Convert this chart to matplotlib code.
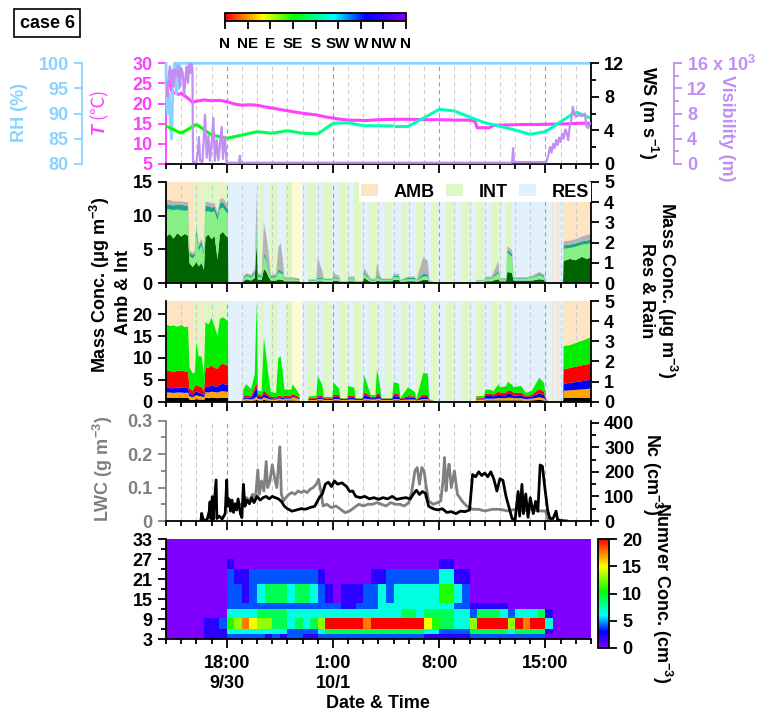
import numpy as np
import matplotlib
matplotlib.use('Agg')
import matplotlib.pyplot as plt
from matplotlib.colors import LinearSegmentedColormap, Normalize
from matplotlib.collections import LineCollection
from matplotlib.patches import Patch
from matplotlib.cm import ScalarMappable
from matplotlib.ticker import MultipleLocator, FixedLocator

#%% fonts
plt.rcParams['font.family'] = ['Liberation Sans', 'DejaVu Sans']
plt.rcParams['font.weight'] = 'bold'
plt.rcParams['font.size'] = 13
plt.rcParams['axes.linewidth'] = 1.3
plt.rcParams['mathtext.fontset'] = 'custom'
plt.rcParams['mathtext.rm'] = 'Liberation Sans:bold'
plt.rcParams['mathtext.bf'] = 'Liberation Sans:bold'
plt.rcParams['mathtext.it'] = 'Liberation Sans:italic'

#%% data (time in hours counted from 0:00 on 9/30)
major_hours = [18, 25, 32, 39]
major_labels = ['18:00\n9/30', '1:00\n10/1', '8:00', '15:00']
dir_labels = ['N', 'NE', 'E', 'SE', 'S', 'SW', 'W', 'NW', 'N']

# met panel
t_rh = [14.00, 14.03, 14.10, 14.20, 14.30, 14.37, 14.45, 14.55, 14.65, 14.70, 14.78, 14.85, 14.90, 42.00]
rh = [100, 93, 90, 94, 88, 85, 95, 100, 100, 94, 100, 95, 100, 100]

t_temp = [14.0, 14.05, 14.1, 14.2, 14.3, 14.35, 14.45, 14.6, 14.8, 15.0,
          15.2, 15.35, 15.6, 15.75, 16.0, 16.5, 17.0, 17.5, 18.0, 18.5,
          19.0, 19.5, 20.0, 20.5, 21.0, 21.7, 22.5, 23.2, 23.9, 24.5,
          25.0, 25.5, 26.0, 27.2, 28.0, 29.0, 30.0, 31.0, 32.0, 33.0,
          34.0, 34.35, 34.5, 35.3, 35.6, 36.5, 37.5, 38.5, 39.5, 40.5,
          41.2, 42.0]
temp = [24.5, 25.2, 24.8, 25.5, 24.6, 23.5, 22.5, 22.7, 22.3, 22.5,
        22.0, 21.6, 20.8, 20.3, 20.6, 20.9, 20.7, 20.8, 20.5, 19.9,
        19.6, 19.7, 19.6, 19.2, 18.9, 18.4, 17.9, 17.5, 17.2, 16.7,
        16.4, 16.1, 15.9, 15.8, 16.0, 16.1, 16.1, 16.0, 16.0, 15.9,
        15.9, 15.6, 14.0, 14.0, 14.6, 14.7, 14.8, 14.8, 14.9, 15.0,
        15.1, 15.1]

ws_hours = [14, 15, 16, 17, 18, 19, 20, 21, 22, 23, 24, 25, 26, 27, 28,
            29, 30, 31, 32, 33, 34, 35, 36, 37, 38, 39, 40, 41, 42]
ws = [4.53, 3.66, 4.73, 3.46, 3.06, 3.45, 3.85, 3.66, 3.97, 3.66, 3.58, 4.85, 4.92, 4.56, 4.55,
      4.53, 4.53, 5.5, 6.52, 6.32, 5.6, 4.92, 4.5, 4.05, 3.54, 3.85, 5.04, 6.2, 5.45]
wd = [137, 136, 138, 140, 143, 150, 160, 165, 168, 170, 172, 188, 190, 192, 192,
      194, 194, 195, 195, 196, 196, 196, 196, 196, 196, 196, 196, 196, 196]

t_vis = [14.00, 14.04, 14.10, 14.20, 14.26, 14.35, 14.45, 14.50, 14.60, 14.70,
         14.80, 14.92, 15.00, 15.10, 15.20, 15.30, 15.36, 15.45, 15.55, 15.62,
         15.70, 15.74, 15.78, 16.00, 16.10, 16.17, 16.25, 16.40, 16.57, 16.68,
         16.79, 16.90, 17.00, 17.12, 17.22, 17.34, 17.45, 17.67, 17.75, 17.88,
         18.00, 18.80, 18.87, 18.92, 36.80, 36.87, 36.92, 39.06, 39.20, 39.30,
         39.40, 39.50, 39.60, 39.70, 39.80, 39.90, 40.00, 40.10, 40.20, 40.30,
         40.40, 40.50, 40.60, 40.70, 40.80, 40.90, 41.00, 41.20, 41.40, 41.60,
         41.70, 41.80, 41.90, 42.00]
vis = [12800, 13000, 10700, 14500, 15500, 13000, 14900, 12300, 15000, 14000,
       15600, 12300, 15200, 14500, 11000, 14200, 15500, 12900, 16000, 14500,
       15800, 15000, 300, 300, 2000, 4300, 500, 300, 7800, 1000,
       4500, 500, 3000, 7300, 500, 3800, 600, 5900, 800, 4300,
       200, 200, 1300, 200, 200, 2500, 300, 300, 1500, 2700,
       1800, 3200, 2500, 3800, 3000, 4200, 3500, 4800, 4000, 5500,
       5000, 3800, 6000, 7000, 9100, 8000, 7500, 7800, 7600, 8000,
       6000, 5700, 6400, 6500]

# sampling periods
amb_spans = [(14.0, 15.8), (16.0, 16.1), (16.35, 16.45), (16.8, 16.9), (17.2, 17.3),
             (17.65, 17.75), (39.4, 39.55), (39.75, 39.9), (40.16, 42.0)]
int_spans = [(15.8, 16.0), (16.1, 16.35), (16.45, 16.8), (16.9, 17.2), (17.3, 17.65),
             (17.75, 18.1), (20.19, 20.45), (20.85, 21.33), (21.83, 22.31), (23.37, 23.87),
             (24.36, 24.9), (25.4, 25.9), (26.38, 26.88), (27.38, 27.87), (28.42, 28.9),
             (29.47, 29.91), (30.44, 30.94), (31.45, 31.93), (32.41, 32.91), (33.42, 33.95),
             (34.45, 34.95), (35.44, 35.92), (36.43, 36.8)]
res_spans = [(18.1, 20.19), (20.45, 20.85), (21.33, 21.83), (22.97, 23.37), (23.87, 24.36),
             (24.9, 25.4), (25.9, 26.38), (26.88, 27.38), (27.87, 28.42), (28.9, 29.47),
             (29.91, 30.44), (30.94, 31.45), (31.93, 32.41), (32.91, 33.42), (33.95, 34.45),
             (34.95, 35.44), (35.92, 36.43), (36.8, 39.4), (39.55, 39.75), (39.9, 40.16)]
yel_spans = [(22.31, 22.97)]

# mass concentrations (layer thickness, plotted on the Amb & Int scale)
t_mass = [14.00, 14.25, 14.50, 14.75, 15.00, 15.25, 15.45, 15.55,
          15.75, 15.90, 16.00, 16.15, 16.35, 16.50, 16.60, 16.80,
          17.00, 17.20, 17.40, 17.55, 17.75, 17.95, 18.08, 18.10,
          19.05, 19.10, 19.30, 19.60, 19.85, 19.97, 20.05, 20.30,
          20.45, 20.60, 20.75, 20.90, 21.25, 21.40, 21.55, 21.70,
          21.80, 22.25, 22.35, 22.80, 22.82, 23.35, 23.40, 23.90,
          24.00, 24.30, 24.40, 24.95, 25.05, 25.40, 25.50, 25.95,
          26.00, 26.40, 26.50, 26.95, 27.05, 27.40, 27.50, 27.80,
          27.90, 28.10, 28.20, 28.90, 29.00, 29.35, 29.45, 29.95,
          30.40, 30.50, 30.95, 31.25, 31.35, 31.70, 31.75, 34.40,
          34.45, 34.95, 35.05, 35.45, 35.55, 35.90, 36.00, 36.40,
          36.50, 36.80, 36.90, 37.40, 37.70, 38.10, 38.60, 38.90,
          39.05, 39.20, 40.15, 40.20, 40.60, 41.00, 41.40, 41.70,
          42.00]
m_dkgreen = [6.8, 7.3, 6.6, 7.4, 6.9, 7.3, 7.0, 3.0,
             2.4, 2.8, 3.2, 2.5, 3.0, 2.0, 6.8, 7.2,
             6.5, 7.0, 3.5, 7.2, 7.6, 7.0, 6.8, 0,
             0, 0.3, 0.6, 0.4, 0.8, 6.0, 0.5, 0.5,
             2.1, 1.8, 1.0, 0.4, 0.4, 0.6, 0.5, 0.5,
             0.3, 0.3, 0.3, 0.3, 0, 0, 0.2, 0.2,
             0.3, 0.3, 0.2, 0.2, 0.4, 0.3, 0.1, 0.1,
             0.3, 0.3, 0.1, 0.1, 0.8, 0.3, 0.2, 0.2,
             0.4, 0.3, 0.3, 0.3, 0.5, 0.5, 0.2, 0.3,
             0.3, 0.2, 0.5, 0.5, 0.2, 0.1, 0, 0,
             0.2, 0.2, 0.3, 0.3, 0.4, 0.6, 0.3, 0.3,
             1.7, 1.5, 0.4, 0.4, 0.4, 0.4, 0.6, 0.5,
             0.05, 0, 0, 3.3, 3.6, 3.4, 3.9, 3.6,
             3.8]
m_ltgreen = [4.1, 3.6, 4.2, 3.5, 3.9, 3.4, 3.8, 1.0,
             1.3, 1.2, 4.0, 2.3, 2.6, 2.2, 3.8, 3.4,
             4.0, 3.6, 5.8, 3.8, 3.6, 3.6, 3.5, 0,
             0, 0.4, 0.5, 0.4, 0.6, 2.0, 0.5, 0.4,
             1.9, 1.5, 1.0, 0.4, 0.5, 1.0, 1.0, 0.8,
             0.3, 0.3, 0.3, 0.2, 0, 0, 0.2, 0.2,
             0.3, 0.3, 0.3, 0.3, 0.4, 0.3, 0.1, 0.1,
             0.3, 0.3, 0.1, 0.1, 0.6, 0.3, 0.2, 0.2,
             0.5, 0.3, 0.2, 0.2, 0.4, 0.4, 0.2, 0.3,
             0.3, 0.2, 0.5, 0.5, 0.2, 0.05, 0, 0,
             0.2, 0.2, 0.4, 0.4, 0.5, 0.9, 0.3, 0.3,
             2.8, 2.4, 0.3, 0.3, 0.3, 0.4, 0.6, 0.4,
             0.05, 0, 0, 1.8, 1.6, 2.0, 1.8, 2.2,
             2.1]
m_teal = [0.8, 0.7, 0.7, 0.7, 0.8, 0.8, 0.7, 0.5,
          0.5, 0.4, 0.8, 0.6, 0.6, 0.5, 0.8, 0.8,
          0.7, 0.7, 0.7, 0.8, 0.8, 0.7, 0.7, 0,
          0, 0.2, 0.2, 0.2, 0.3, 0.8, 0.2, 0.2,
          0.5, 0.4, 0.3, 0.2, 0.2, 0.4, 0.4, 0.3,
          0.1, 0.1, 0.1, 0.1, 0, 0, 0.1, 0.1,
          0.2, 0.2, 0.1, 0.1, 0.2, 0.1, 0.05, 0.05,
          0.1, 0.1, 0.05, 0.05, 0.3, 0.1, 0.1, 0.1,
          0.3, 0.2, 0.1, 0.1, 0.2, 0.2, 0.05, 0.2,
          0.2, 0.05, 0.4, 0.3, 0.05, 0, 0, 0,
          0.05, 0.05, 0.1, 0.1, 0.2, 0.3, 0.1, 0.1,
          0.5, 0.4, 0.1, 0.1, 0.1, 0.1, 0.2, 0.2,
          0, 0, 0, 0.5, 0.5, 0.5, 0.5, 0.5,
          0.6]
m_gray = [0.6, 0.7, 0.6, 0.5, 0.5, 0.5, 0.5, 0.4,
          0.3, 0.4, 0.6, 0.4, 0.4, 0.3, 0.6, 0.6,
          0.6, 0.5, 0.5, 0.6, 0.6, 0.6, 0.5, 0,
          0, 0.2, 0.2, 0.3, 0.4, 4.8, 0.3, 0.3,
          4.4, 3.5, 2.5, 0.2, 0.3, 3.2, 4.1, 2.0,
          0.2, 0.2, 0.2, 0.1, 0, 0, 0.1, 0.1,
          3.0, 1.0, 0.1, 0.1, 0.5, 0.4, 0.05, 0.05,
          0.3, 0.3, 0.1, 0.1, 0.6, 0.3, 0.2, 0.2,
          1.8, 0.5, 0.1, 0.1, 0.3, 0.3, 0.05, 0.2,
          0.2, 0.05, 2.5, 2.0, 0.05, 0, 0, 0,
          0.05, 0.05, 0.2, 0.2, 0.4, 1.5, 0.1, 0.1,
          0.5, 0.6, 0.1, 0.1, 0.1, 0.2, 0.3, 0.2,
          0, 0, 0, 0.6, 0.6, 0.6, 0.7, 0.8,
          0.8]

c_black = [0.9, 0.9, 0.9, 0.9, 0.9, 0.9, 0.9, 0.5,
           0.4, 0.5, 0.6, 0.5, 0.5, 0.4, 0.9, 0.8,
           0.9, 0.9, 0.8, 0.9, 0.9, 0.9, 0.9, 0,
           0, 0.2, 0.3, 0.2, 0.3, 0.4, 0.3, 0.2,
           0.4, 0.3, 0.3, 0.2, 0.2, 0.3, 0.3, 0.2,
           0.3, 0.3, 0.3, 0.2, 0, 0, 0.2, 0.2,
           0.3, 0.3, 0.2, 0.2, 0.3, 0.3, 0.2, 0.2,
           0.2, 0.2, 0.2, 0.2, 0.3, 0.3, 0.2, 0.2,
           0.3, 0.3, 0.2, 0.2, 0.3, 0.3, 0.2, 0.2,
           0.2, 0.1, 0.3, 0.3, 0.1, 0.05, 0, 0,
           0.2, 0.2, 0.3, 0.3, 0.3, 0.3, 0.3, 0.3,
           0.3, 0.3, 0.3, 0.3, 0.2, 0.3, 0.4, 0.3,
           0.1, 0, 0, 0.9, 0.9, 0.9, 0.9, 0.9,
           0.9]
c_orange = [1.2, 1.2, 1.1, 1.2, 1.2, 1.1, 1.2, 0.8,
            0.6, 0.8, 0.9, 0.8, 0.7, 0.6, 1.3, 1.3,
            1.4, 1.3, 1.3, 1.4, 1.5, 1.4, 1.4, 0,
            0, 0.3, 0.4, 0.3, 0.5, 0.8, 0.4, 0.4,
            0.6, 0.5, 0.4, 0.3, 0.3, 0.4, 0.4, 0.3,
            0.4, 0.4, 0.8, 0.4, 0, 0, 0.2, 0.2,
            0.3, 0.3, 0.2, 0.2, 0.3, 0.3, 0.2, 0.2,
            0.3, 0.3, 0.2, 0.2, 0.4, 0.3, 0.3, 0.3,
            0.4, 0.4, 0.2, 0.2, 0.3, 0.3, 0.2, 0.3,
            0.3, 0.2, 0.3, 0.3, 0.1, 0.05, 0, 0,
            0.3, 0.3, 0.4, 0.4, 0.4, 0.5, 0.5, 0.5,
            0.6, 0.6, 0.5, 0.5, 0.4, 0.4, 0.6, 0.5,
            0.2, 0, 0, 1.6, 1.7, 1.8, 1.9, 2.0,
            2.1]
c_blue = [1.1, 1.0, 1.1, 1.2, 1.1, 1.1, 1.1, 0.6,
          0.5, 0.8, 0.9, 0.8, 0.7, 0.5, 1.3, 1.2,
          1.5, 1.3, 1.4, 1.6, 1.7, 1.6, 1.5, 0,
          0, 0.2, 0.3, 0.3, 1.5, 2.0, 0.4, 0.4,
          0.8, 0.7, 0.4, 0.3, 0.2, 0.3, 0.3, 0.3,
          0.3, 0.3, 0.3, 0.2, 0, 0, 0.2, 0.2,
          0.3, 0.3, 0.2, 0.2, 0.6, 0.5, 0.2, 0.2,
          0.5, 0.5, 0.2, 0.2, 0.8, 0.5, 0.3, 0.3,
          0.6, 0.5, 0.2, 0.2, 0.7, 0.6, 0.2, 0.4,
          0.4, 0.1, 0.6, 0.4, 0.1, 0, 0, 0,
          0.2, 0.2, 0.6, 0.6, 0.5, 0.8, 0.7, 0.7,
          0.9, 0.8, 0.6, 0.7, 0.4, 0.5, 0.9, 0.7,
          0.1, 0, 0, 1.6, 1.7, 1.8, 1.9, 2.0,
          2.0]
c_red = [3.8, 3.9, 3.7, 3.8, 3.9, 3.8, 3.7, 1.2,
         1.0, 1.5, 1.4, 1.5, 1.4, 1.0, 4.2, 4.5,
         4.5, 4.2, 4.0, 4.4, 4.6, 4.5, 4.4, 0,
         0, 0.4, 0.5, 0.4, 1.0, 1.0, 0.5, 0.4,
         0.8, 0.6, 0.5, 0.4, 0.3, 0.4, 0.4, 0.3,
         0.4, 0.4, 0.4, 0.2, 0, 0, 0.2, 0.2,
         0.4, 0.4, 0.2, 0.2, 0.5, 0.4, 0.1, 0.1,
         0.4, 0.4, 0.1, 0.1, 0.6, 0.4, 0.3, 0.3,
         0.6, 0.5, 0.1, 0.1, 0.5, 0.5, 0.1, 0.4,
         0.3, 0.1, 0.5, 0.4, 0.1, 0, 0, 0,
         0.2, 0.2, 0.5, 0.5, 0.4, 0.7, 0.6, 0.6,
         0.8, 0.7, 0.6, 0.6, 0.3, 0.4, 1.0, 0.8,
         0.1, 0, 0, 3.3, 3.4, 3.5, 3.6, 3.6,
         3.7]
c_green = [10.6, 10.3, 10.6, 10.0, 10.4, 10.1, 10.3, 4.7,
           4.0, 3.0, 9.7, 6.8, 7.0, 3.5, 10.5, 9.8,
           10.9, 9.5, 7.5, 10.6, 10.6, 10.4, 10.0, 0,
           0, 1.8, 2.5, 1.7, 3.0, 18.8, 1.0, 0.9,
           12.0, 8.5, 4.5, 1.0, 1.0, 8.5, 9.0, 5.5,
           1.4, 1.3, 2.2, 0.6, 0, 0, 0.4, 0.5,
           4.6, 2.5, 0.3, 0.3, 2.7, 1.5, 0.1, 0.1,
           2.2, 1.8, 0.1, 0.1, 4.0, 1.0, 0.4, 0.4,
           5.5, 2.0, 0.1, 0.1, 2.7, 2.4, 0.1, 2.0,
           1.0, 0.1, 4.9, 5.0, 0.2, 0, 0, 0,
           0.4, 0.4, 1.0, 0.9, 0.7, 1.7, 1.2, 1.4,
           1.9, 1.5, 1.3, 1.5, 0.7, 0.9, 2.6, 2.0,
           0.1, 0, 0, 5.3, 5.2, 5.4, 5.6, 5.8,
           6.0]

# cloud microphysics
t_lwc = [18.90, 19.10, 19.30, 19.50, 19.70, 19.90, 20.05, 20.15, 20.30, 20.45,
         20.60, 20.70, 20.85, 21.00, 21.15, 21.30, 21.50, 21.60, 21.75, 21.90,
         22.10, 22.30, 22.50, 22.70, 22.90, 23.10, 23.30, 23.50, 23.70, 23.90,
         24.05, 24.20, 24.35, 24.60, 24.90, 25.20, 25.50, 25.80, 26.10, 26.40,
         26.70, 27.00, 27.30, 27.60, 27.90, 28.20, 28.50, 28.80, 29.10, 29.40,
         29.70, 30.00, 30.20, 30.40, 30.55, 30.70, 30.85, 31.00, 31.15, 31.30,
         31.60, 31.90, 32.10, 32.25, 32.35, 32.45, 32.55, 32.65, 32.80, 33.00,
         33.20, 33.50, 33.80, 34.20, 34.60, 35.00, 35.50, 36.00, 36.50, 37.00,
         37.50, 38.00, 38.50, 39.00, 39.20]
lwc = [0.05, 0.05, 0.07, 0.06, 0.08, 0.07, 0.153, 0.08, 0.12, 0.09,
       0.178, 0.10, 0.12, 0.168, 0.13, 0.10, 0.222, 0.08, 0.06, 0.07,
       0.08, 0.085, 0.08, 0.09, 0.085, 0.09, 0.085, 0.095, 0.10, 0.11,
       0.125, 0.09, 0.045, 0.05, 0.04, 0.045, 0.035, 0.025, 0.03, 0.04,
       0.05, 0.045, 0.05, 0.05, 0.055, 0.05, 0.045, 0.055, 0.05, 0.05,
       0.045, 0.055, 0.09, 0.15, 0.16, 0.11, 0.16, 0.15, 0.10, 0.06,
       0.05, 0.055, 0.06, 0.12, 0.19, 0.09, 0.14, 0.17, 0.10, 0.15,
       0.08, 0.06, 0.045, 0.035, 0.035, 0.03, 0.035, 0.035, 0.03, 0.035,
       0.03, 0.035, 0.03, 0.03, 0.0]

t_nc = [16.30, 16.35, 16.45, 16.70, 16.85, 16.90, 16.95, 17.05, 17.10, 17.30,
        17.35, 17.50, 17.70, 17.90, 18.00, 18.05, 18.15, 18.25, 18.35, 18.45,
        18.55, 18.65, 18.75, 18.90, 19.00, 19.10, 19.20, 19.35, 19.50, 19.65,
        19.80, 20.00, 20.20, 20.40, 20.60, 20.80, 21.00, 21.20, 21.40, 21.60,
        21.80, 22.00, 22.30, 22.60, 22.90, 23.20, 23.50, 23.80, 24.10, 24.30,
        24.50, 24.70, 24.90, 25.10, 25.30, 25.60, 25.90, 26.10, 26.30, 26.50,
        26.80, 27.10, 27.40, 27.70, 28.00, 28.30, 28.60, 28.90, 29.20, 29.50,
        29.80, 30.10, 30.30, 30.50, 30.70, 30.90, 31.10, 31.30, 31.60, 31.90,
        32.20, 32.50, 32.80, 33.10, 33.40, 33.70, 34.00, 34.20, 34.40, 34.60,
        34.80, 35.00, 35.20, 35.40, 35.60, 35.80, 36.00, 36.20, 36.40, 36.60,
        36.80, 37.00, 37.20, 37.30, 37.45, 37.55, 37.70, 37.85, 38.00, 38.20,
        38.35, 38.50, 38.65, 38.80, 38.95, 39.15, 39.30, 39.50, 39.70, 39.80,
        40.00, 40.40]
nc = [0, 31, 5, 3, 40, 78, 10, 99, 5, 167,
      10, 20, 8, 30, 167, 60, 90, 40, 85, 35,
      70, 45, 90, 30, 14, 149, 60, 85, 70, 95,
      75, 100, 85, 95, 100, 90, 100, 95, 90, 80,
      60, 50, 40, 45, 50, 48, 55, 60, 95, 110,
      150, 158, 140, 163, 150, 155, 140, 120, 122, 100,
      95, 100, 90, 95, 88, 95, 90, 100, 88, 92,
      95, 90, 110, 125, 108, 120, 112, 60, 50, 45,
      50, 35, 38, 30, 40, 38, 45, 189, 180, 200,
      185, 195, 180, 200, 170, 122, 172, 165, 100, 55,
      10, 5, 120, 20, 149, 30, 110, 15, 95, 30,
      80, 40, 228, 222, 140, 41, 10, 10, 40, 5,
      2, 0]

# droplet number size distribution, half-hour columns from 14:00,
# one string per size bin, digit = colour level
size_edges = [3, 4.5, 6, 9.5, 12, 14, 19.5, 24, 27, 33]
level_vals = [0, 2, 4, 6.5, 9, 11, 13, 15, 17.5, 20]
bin_3_45 = "0" * 5 + "111" + "2" * 4 + "21212211" + "2" * 14 + "1" * 6 + "2" * 10 + "0" * 6
bin_45_6 = "0" * 5 + "111" + "3" * 8 + "2" * 4 + "3" + "4" * 13 + "33" + "2" * 4 + "4" * 5 + "3" + "4" * 4 + "1" + "0" * 5
bin_6_95 = ("0" * 5 + "112" + "5687" + "66" + "44" + "3434" + "6" + "9" * 5 + "8" + "9" * 7
            + "75" + "4433" + "6" + "9" * 4 + "6" + "989" + "9" + "3" + "0" * 5)
bin_95_12 = ("0" * 8 + "3" * 4 + "4" * 4 + "3" * 4 + "3" + "3" * 10 + "44344" + "44" + "33" + "2"
             + "444" + "3" + "2" + "333" + "4" + "1" + "0" * 5)
bin_12_14 = "0" * 8 + "2" * 12 + "2" + "22112" + "22" + "3" * 8 + "33" + "22" + "11" + "111" + "0" * 11
bin_14_195 = "0" * 8 + "2212" + "34443443" + "2" + "10111" + "2232" + "3" * 6 + "55" + "32" + "0" * 16
bin_195_24 = "0" * 8 + "2112" + "2" * 8 + "1" + "0" * 6 + "1122" + "2" * 5 + "33" + "11" + "0" * 16
bin_24_27 = "0" * 8 + "1" + "0" * 27 + "11" + "0" * 18
bin_27_33 = "0" * 56
size_rows = [bin_3_45, bin_45_6, bin_6_95, bin_95_12, bin_12_14, bin_14_195, bin_195_24, bin_24_27, bin_27_33]

#%% colours
MAG = '#ff40ff'
RHC = '#88d4ff'
VISC = '#c18ef2'
GRAY = '#808080'
AMB_C = '#fde5c3'
INT_C = '#ddf8c4'
RES_C = '#e2f1fb'
YEL_C = '#fcfbd3'

dir_cmap = LinearSegmentedColormap.from_list(
    'wd', [(0, '#ff0000'), (0.21, '#ffff00'), (0.38, '#00ff00'), (0.6, '#00ffff'),
           (0.78, '#0000ff'), (1.0, '#8000ff')])
heat_cmap = LinearSegmentedColormap.from_list(
    'nsd', [(0, '#8000ff'), (0.15, '#0000ff'), (0.3, '#00ffff'), (0.52, '#00ff00'),
            (0.75, '#ffff00'), (1.0, '#ff0000')])

#%% helpers
W_PX, H_PX = 763, 714


def box(l, t, r, b):
    return [l / W_PX, 1 - b / H_PX, (r - l) / W_PX, (b - t) / H_PX]


def fx(x):
    return x / W_PX


def fy(y):
    return 1 - y / H_PX


def style_x(ax, labels=False):
    ax.set_xlim(14, 42)
    ax.xaxis.set_major_locator(FixedLocator(major_hours))
    ax.xaxis.set_minor_locator(MultipleLocator(1))
    ax.tick_params(axis='x', which='major', direction='out', length=6.5, width=1.3)
    ax.tick_params(axis='x', which='minor', direction='out', length=3.8, width=1.3)
    if labels:
        ax.set_xticklabels(major_labels)
        ax.tick_params(axis='x', which='major', pad=5)
    else:
        ax.tick_params(axis='x', labelbottom=False)


def style_y(ax, color='black'):
    ax.tick_params(axis='y', which='major', direction='out', length=6, width=1.3, colors=color)
    ax.tick_params(axis='y', which='minor', direction='out', length=3.5, width=1.3, colors=color)


def hour_grid(ax):
    for h in range(15, 42):
        c = '#a0a0a0' if h in major_hours else '#cccccc'
        ax.axvline(h, color=c, lw=0.8, ls=(0, (4, 3)), zorder=0.6)


def only_spine(ax, side, color='black'):
    for s in ax.spines.values():
        s.set_visible(False)
    ax.spines[side].set_visible(True)
    ax.spines[side].set_color(color)


def shade(ax):
    for spans, c in [(amb_spans, AMB_C), (int_spans, INT_C), (res_spans, RES_C), (yel_spans, YEL_C)]:
        for a, b in spans:
            ax.axvspan(a, b, color=c, lw=0, zorder=0)


#%% figure
fig = plt.figure(figsize=(7.63, 7.14), dpi=100)

# ---- met panel
ax1 = fig.add_axes(box(166, 63.3, 591, 164))
hour_grid(ax1)
ax1.plot(t_temp, temp, color=MAG, lw=2.2, zorder=3)
ax1.set_ylim(5, 30)
ax1.set_yticks([5, 10, 15, 20, 25, 30])
ax1.spines['left'].set_color(MAG)
ax1.spines['top'].set_visible(False)
ax1.spines['right'].set_visible(False)
style_y(ax1, MAG)
style_x(ax1)

axRH = ax1.twinx()
only_spine(axRH, 'left', RHC)
axRH.spines['left'].set_position(('axes', -0.198))
axRH.yaxis.set_ticks_position('left')
axRH.plot(t_rh, rh, color=RHC, lw=2, clip_on=False)
axRH.set_ylim(80, 100)
axRH.set_yticks([80, 85, 90, 95, 100])
style_y(axRH, RHC)

axWS = ax1.twinx()
only_spine(axWS, 'right')
pts = np.column_stack([ws_hours, ws])
segs = np.stack([pts[:-1], pts[1:]], axis=1)
lc = LineCollection(segs, cmap=dir_cmap, norm=Normalize(0, 360), linewidths=2.2)
lc.set_array((np.array(wd[:-1]) + np.array(wd[1:])) / 2)
axWS.add_collection(lc)
axWS.set_ylim(0, 12)
axWS.set_yticks([0, 4, 8, 12])
axWS.yaxis.set_minor_locator(MultipleLocator(2))
style_y(axWS)

axVis = ax1.twinx()
only_spine(axVis, 'right', VISC)
axVis.spines['right'].set_position(('axes', 1.195))
axVis.plot(t_vis, vis, color=VISC, lw=1.6)
axVis.set_ylim(0, 16000)
axVis.set_yticks([0, 4000, 8000, 12000, 16000])
axVis.set_yticklabels(['0', '4', '8', '12', '16 x 10$^{3}$'])
axVis.yaxis.set_minor_locator(MultipleLocator(2000))
style_y(axVis, VISC)

# ---- mass panels
ax2 = fig.add_axes(box(166, 181.7, 591, 283.3))
shade(ax2)
hour_grid(ax2)
ax2.stackplot(t_mass, m_dkgreen, m_ltgreen, m_teal, m_gray,
              colors=['#006400', '#86ef86', '#1aa58e', '#b4b4b4'], lw=0, zorder=2)
ax2.set_ylim(0, 15)
ax2.set_yticks([0, 5, 10, 15])
ax2.spines['top'].set_visible(False)
ax2.spines['right'].set_visible(False)
style_y(ax2)
style_x(ax2)
ax2r = ax2.twinx()
only_spine(ax2r, 'right')
ax2r.set_ylim(0, 5)
ax2r.set_yticks([0, 1, 2, 3, 4, 5])
style_y(ax2r)
handles = [Patch(facecolor=AMB_C, label='AMB'), Patch(facecolor=INT_C, label='INT'),
           Patch(facecolor=RES_C, label='RES')]
leg = ax2r.legend(handles=handles, loc='upper right', ncol=3, frameon=True, fancybox=False,
                  framealpha=1, edgecolor='white', borderaxespad=0, borderpad=0.1,
                  handlelength=0.95, handleheight=0.6, handletextpad=0.85, columnspacing=0.65)
leg.get_frame().set_linewidth(0)

ax3 = fig.add_axes(box(166, 301, 591, 401.7))
shade(ax3)
hour_grid(ax3)
ax3.stackplot(t_mass, c_black, c_orange, c_blue, c_red, c_green,
              colors=['#000000', '#ffa500', '#0000ff', '#ff0000', '#00ee00'], lw=0, zorder=2)
ax3.set_ylim(0, 23)
ax3.set_yticks([0, 5, 10, 15, 20])
ax3.spines['top'].set_visible(False)
ax3.spines['right'].set_visible(False)
style_y(ax3)
style_x(ax3)
ax3r = ax3.twinx()
only_spine(ax3r, 'right')
ax3r.set_ylim(0, 5)
ax3r.set_yticks([0, 1, 2, 3, 4, 5])
style_y(ax3r)

# ---- LWC / Nc
ax4 = fig.add_axes(box(166, 420.7, 591, 521))
hour_grid(ax4)
ax4.plot(t_lwc, lwc, color=GRAY, lw=2, zorder=2)
ax4.set_ylim(0, 0.3)
ax4.set_yticks([0, 0.1, 0.2, 0.3])
ax4.set_yticklabels(['0', '0.1', '0.2', '0.3'])
ax4.yaxis.set_minor_locator(MultipleLocator(0.05))
ax4.spines['top'].set_visible(False)
ax4.spines['right'].set_visible(False)
ax4.spines['left'].set_color(GRAY)
style_y(ax4, GRAY)
style_x(ax4)
ax4b = ax4.twinx()
only_spine(ax4b, 'right')
ax4b.plot(t_nc, nc, color='black', lw=2)
ax4b.set_ylim(0, 408)
ax4b.set_yticks([0, 100, 200, 300, 400])
ax4b.yaxis.set_minor_locator(MultipleLocator(50))
style_y(ax4b)

# ---- size distribution
ax5 = fig.add_axes(box(166, 539.3, 591, 639.3))
Z = np.array([[level_vals[int(ch)] for ch in row] for row in size_rows])
x_edges = np.arange(14, 42.01, 0.5)
mesh = ax5.pcolormesh(x_edges, size_edges, Z, cmap=heat_cmap, vmin=0, vmax=20, shading='flat')
ax5.set_ylim(3, 33)
ax5.set_yticks([3, 9, 15, 21, 27, 33])
ax5.yaxis.set_minor_locator(MultipleLocator(3))
ax5.spines['top'].set_visible(False)
ax5.spines['right'].set_visible(False)
style_y(ax5)
style_x(ax5, labels=True)

cax = fig.add_axes(box(598, 539, 609, 648))
cb = fig.colorbar(mesh, cax=cax, ticks=[0, 5, 10, 15, 20])
cb.outline.set_linewidth(1.3)
cax.tick_params(direction='out', length=6, width=1.3)

dax = fig.add_axes(box(225, 12.7, 406, 20.7))
cbd = fig.colorbar(ScalarMappable(norm=Normalize(0, 360), cmap=dir_cmap), cax=dax,
                   orientation='horizontal', ticks=list(range(0, 361, 45)))
cbd.set_ticklabels(dir_labels)
cbd.outline.set_linewidth(1.3)
dax.tick_params(direction='out', length=6, width=1.3, labelsize=11, pad=6)

#%% labels
fig.text(fx(47), fy(23), 'case 6', ha='center', va='center', fontsize=13,
         bbox=dict(boxstyle='square,pad=0.3', fc='white', ec='black', lw=1.2))
fig.text(fx(20), fy(113), 'RH (%)', color=RHC, rotation=90, ha='center', va='center')
fig.text(fx(100), fy(113), '$T$ (℃)', color=MAG, rotation=90, ha='center', va='center',
         fontweight='normal', family=['Noto Sans CJK SC', 'DejaVu Sans'])
fig.text(fx(648), fy(113), 'WS (m s$^{-1}$)', rotation=-90, ha='center', va='center')
fig.text(fx(726), fy(128), 'Visibility (m)', color=VISC, rotation=-90, ha='center', va='center')
fig.text(fx(100), fy(285), 'Mass Conc. (μg m$^{-3}$)', rotation=90, ha='center', va='center')
fig.text(fx(123), fy(292), 'Amb & Int', rotation=90, ha='center', va='center')
fig.text(fx(667), fy(290), 'Mass Conc. (μg m$^{-3}$)', rotation=-90, ha='center', va='center')
fig.text(fx(647), fy(291), 'Res & Rain', rotation=-90, ha='center', va='center')
fig.text(fx(103), fy(469), 'LWC (g m$^{-3}$)', color=GRAY, rotation=90, ha='center', va='center')
fig.text(fx(652), fy(474), 'Nc (cm$^{-3}$)', rotation=-90, ha='center', va='center')
fig.text(fx(662), fy(593), 'Numver Conc. (cm$^{-3}$)', rotation=-90, ha='center', va='center')
fig.text(fx(378), fy(703), 'Date & Time', ha='center', va='center')

fig.savefig('out.png', dpi=100)
